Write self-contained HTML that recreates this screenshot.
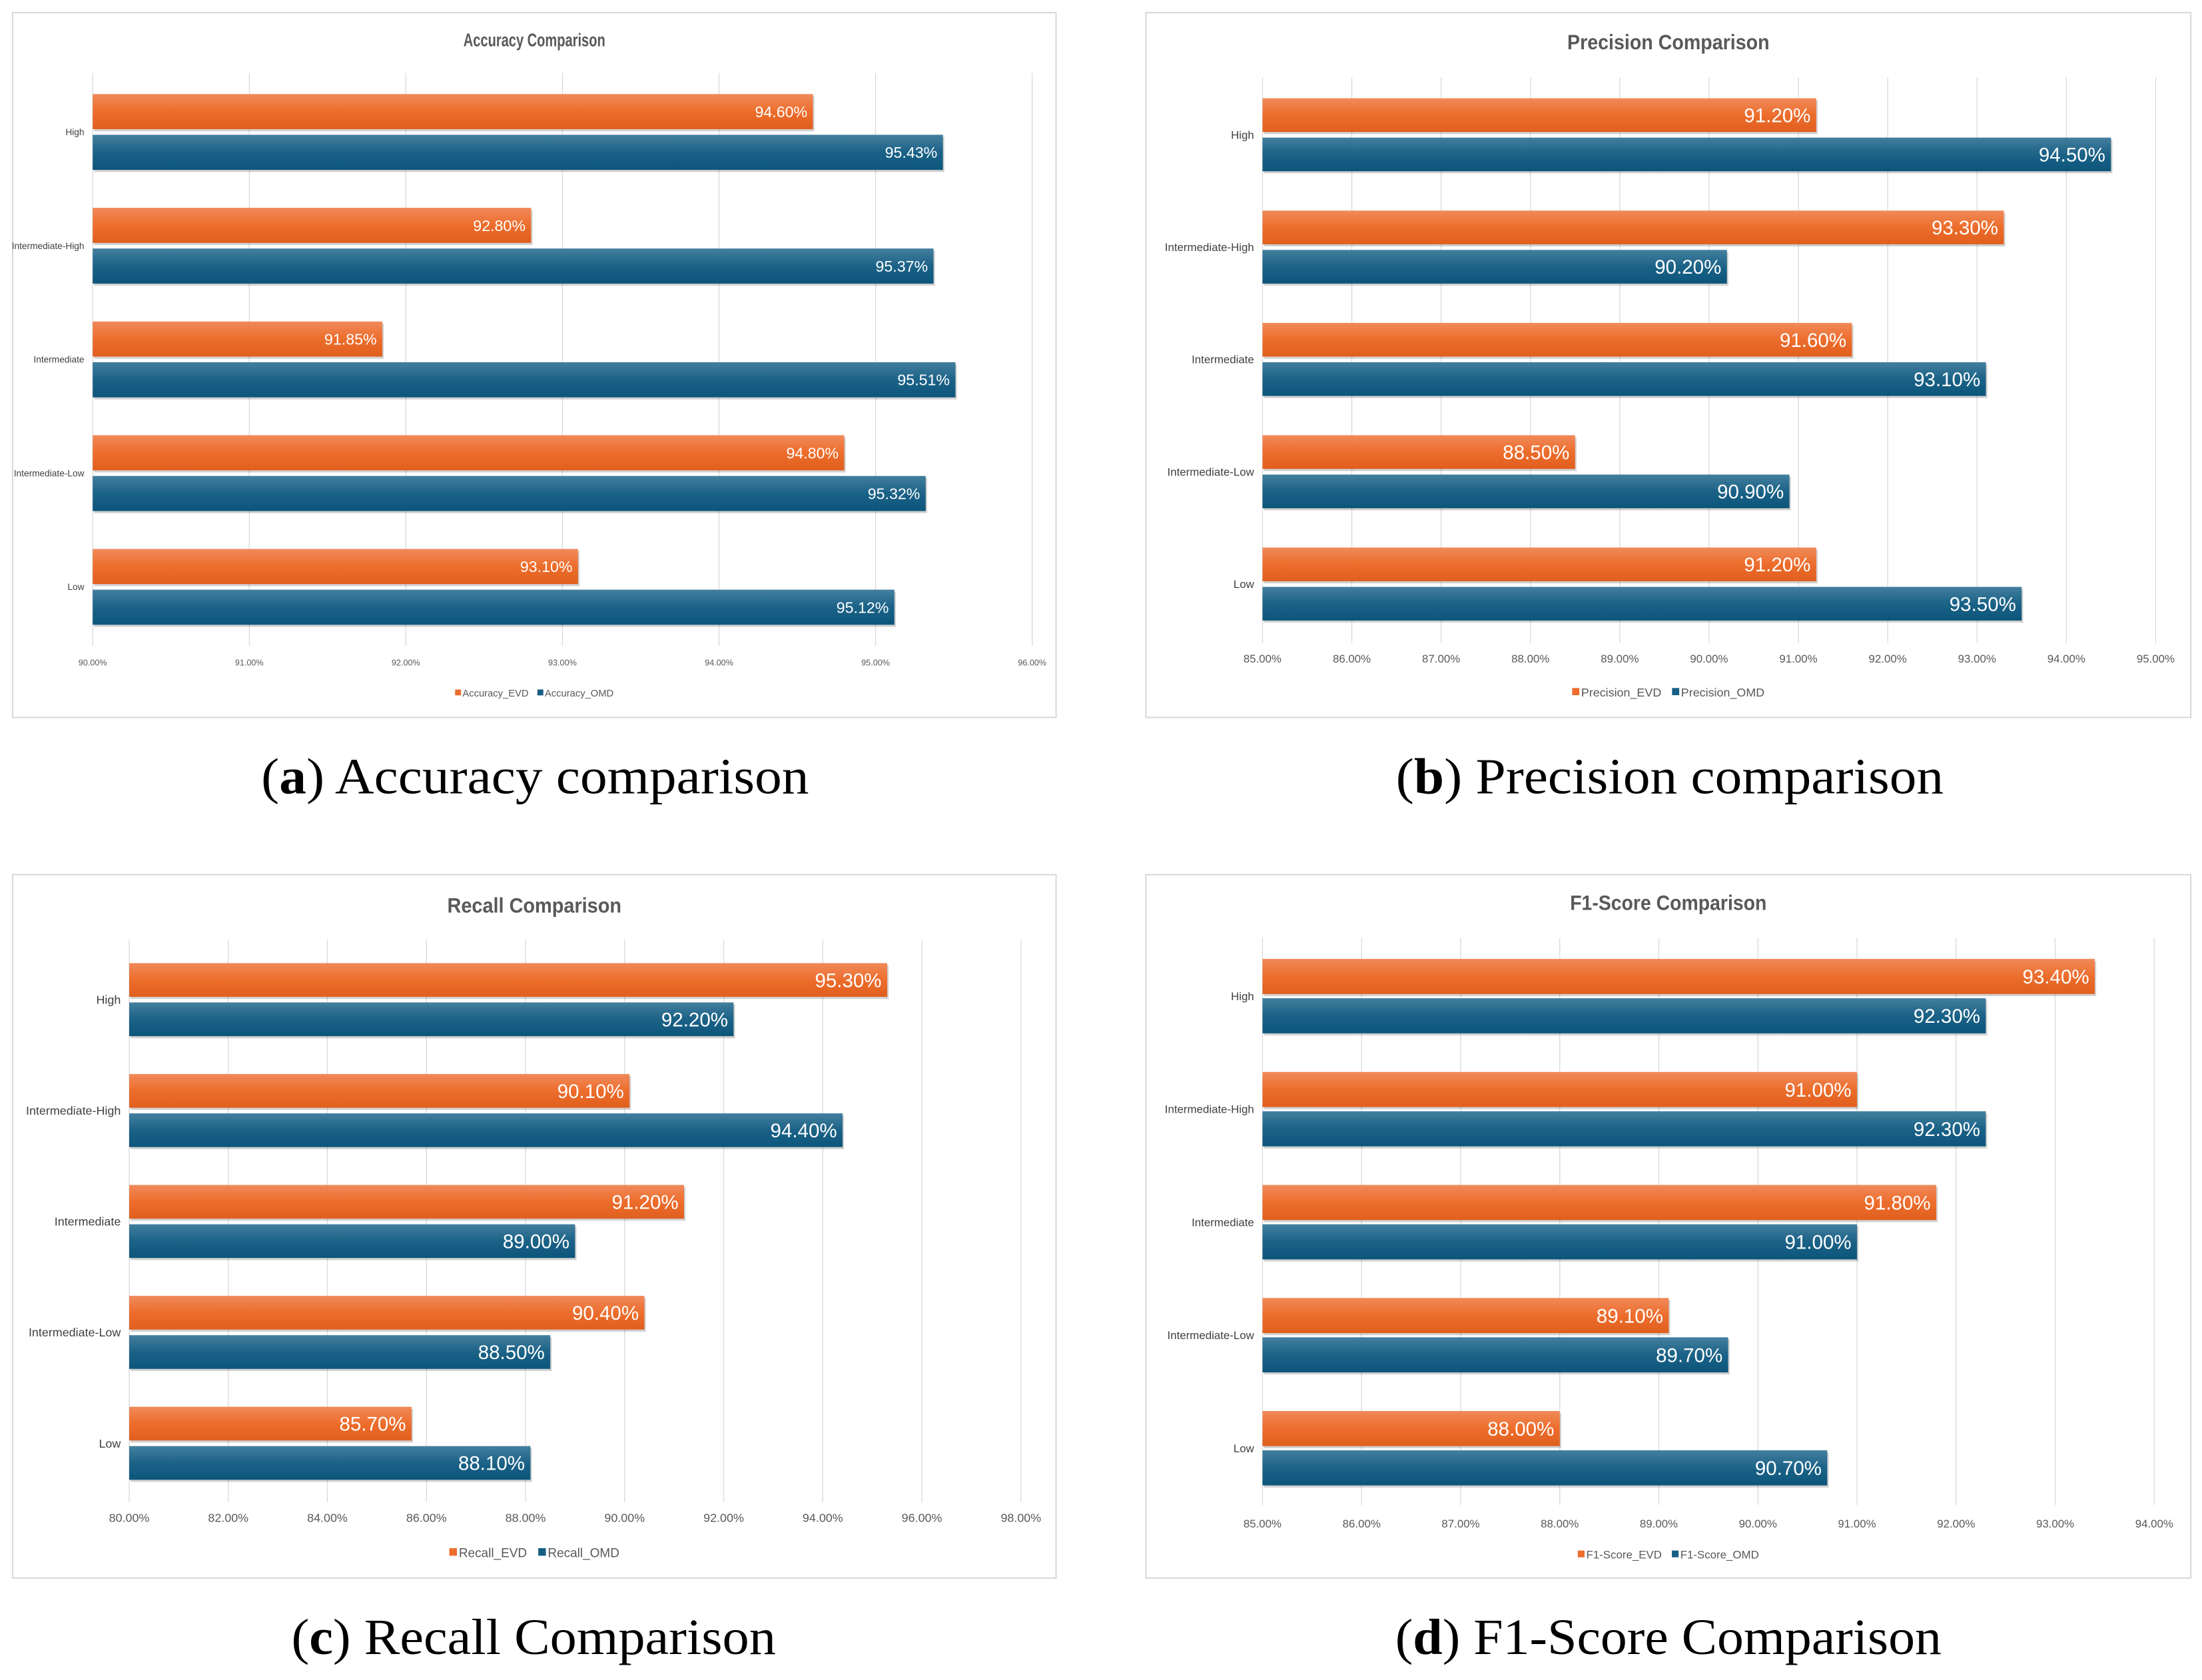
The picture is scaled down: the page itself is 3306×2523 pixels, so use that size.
<!DOCTYPE html>
<html><head><meta charset="utf-8"><style>
html,body{margin:0;padding:0;background:#fff;}
svg{display:block;}
</style></head><body>
<svg id="fig" xmlns="http://www.w3.org/2000/svg" width="3306" height="2523" viewBox="0 0 1568 1196.6" preserveAspectRatio="none">
<defs>
<linearGradient id="gO" x1="0" y1="0" x2="0" y2="1"><stop offset="0" stop-color="#f08a5a"/><stop offset="0.5" stop-color="#ed6d2c"/><stop offset="1" stop-color="#e05f1e"/></linearGradient>
<linearGradient id="gB" x1="0" y1="0" x2="0" y2="1"><stop offset="0" stop-color="#447f9e"/><stop offset="0.5" stop-color="#1b6287"/><stop offset="1" stop-color="#0c557b"/></linearGradient>
</defs>
</svg>
<script>
const categories = ["High","Intermediate-High","Intermediate","Intermediate-Low","Low"];
const accEVD = [94.60, 92.80, 91.85, 94.80, 93.10];
const accOMD = [95.43, 95.37, 95.51, 95.32, 95.12];
const precEVD = [91.20, 93.30, 91.60, 88.50, 91.20];
const precOMD = [94.50, 90.20, 93.10, 90.90, 93.50];
const recEVD = [95.30, 90.10, 91.20, 90.40, 85.70];
const recOMD = [92.20, 94.40, 89.00, 88.50, 88.10];
const f1EVD = [93.40, 91.00, 91.80, 89.10, 88.00];
const f1OMD = [92.30, 92.30, 91.00, 89.70, 90.70];
const accTicks = [90,91,92,93,94,95,96];
const precTicks = [85,86,87,88,89,90,91,92,93,94,95];
const recTicks = [80,82,84,86,88,90,92,94,96,98];
const f1Ticks = [85,86,87,88,89,90,91,92,93,94];

const NS="http://www.w3.org/2000/svg";
const svg=document.getElementById('fig');
const SANS='"Liberation Sans Narrow","Liberation Sans",sans-serif';
function mk(tag,attrs,parent,text){const e=document.createElementNS(NS,tag);for(const k in attrs)e.setAttribute(k,attrs[k]);if(text!==undefined)e.textContent=text;(parent||svg).appendChild(e);return e;}

function drawChart(cfg){
  const g=mk('g',{});
  
  
  const box=mk('rect',{x:cfg.bx,y:cfg.by,width:cfg.bw,height:cfg.bh,fill:'#fff',stroke:'#d9d9d9','stroke-width':1},g);
  
  
  const t=mk('text',{x:cfg.bx+cfg.bw/2,y:cfg.ty,'text-anchor':'middle','font-family':SANS,'font-weight':'bold','font-size':cfg.tfs,fill:'#595959',textLength:cfg.tlen,lengthAdjust:'spacingAndGlyphs'},g,cfg.title);
  
  
  const ticks=cfg.ticks, tmin=ticks[0], tmax=ticks[ticks.length-1];
  const xs=v=>cfg.x0+(v-tmin)/(tmax-tmin)*(cfg.x1-cfg.x0);
  ticks.forEach(v=>{
    const l=mk('line',{x1:xs(v),x2:xs(v),y1:cfg.gy0,y2:cfg.gy1,stroke:'#d9d9d9','stroke-width':0.6},g);
    
    
    const tl=mk('text',{x:xs(v),y:cfg.tky,'text-anchor':'middle','font-family':SANS,'font-size':cfg.tkfs,fill:'#595959'},g,v.toFixed(2)+'%');
    
    
  });
  categories.forEach((c,i)=>{
    const y=cfg.b0+i*cfg.step;
    const e=cfg.evd[i], o=cfg.omd[i];
    [[e,'url(#gO)',y,'evd'],[o,'url(#gB)',y+cfg.bh2+cfg.gap,'omd']].forEach(([v,fill,yy,s])=>{
      const sh=mk('rect',{x:xs(tmin)+1,y:yy+1.5,width:xs(v)-xs(tmin),height:cfg.bh2,fill:'#000',opacity:0.18},g);
      
      
      const r=mk('rect',{x:xs(tmin),y:yy,width:xs(v)-xs(tmin),height:cfg.bh2,fill:fill},g);
      
      
      const vl=mk('text',{x:xs(v)-4,y:yy+cfg.bh2/2+cfg.vfs*0.36,'text-anchor':'end','font-family':SANS,'font-size':cfg.vfs,fill:'#fff'},g,v.toFixed(2)+'%');
      
      
    });
    const cl=mk('text',{x:cfg.x0-6,y:y+cfg.bh2+cfg.gap/2+cfg.cfs*0.35,'text-anchor':'end','font-family':SANS,'font-size':cfg.cfs,fill:'#404040'},g,c);
    
    
  });
  const cx=cfg.bx+cfg.bw/2;
  const lg=mk('g',{},g);
  
  
  const lf=cfg.lfs;
  const s1=mk('rect',{y:cfg.ly-lf*0.7,width:lf*0.6,height:lf*0.6,fill:'#ed6d2c'},lg);
  const le1=mk('text',{y:cfg.ly,'font-family':SANS,'font-size':lf,fill:'#595959'},lg,cfg.leg[0]);
  
  
  const s2=mk('rect',{y:cfg.ly-lf*0.7,width:lf*0.6,height:lf*0.6,fill:'#165e84'},lg);
  const le2=mk('text',{y:cfg.ly,'font-family':SANS,'font-size':lf,fill:'#595959'},lg,cfg.leg[1]);
  
  
  const w1=le1.getComputedTextLength(), w2=le2.getComputedTextLength();
  const total=w1+w2+lf*2.4;
  let lx=cx-total/2;
  s1.setAttribute('x',lx); le1.setAttribute('x',lx+lf*0.75);
  lx+=w1+lf*1.65;
  s2.setAttribute('x',lx); le2.setAttribute('x',lx+lf*0.75);
  const cap=mk('text',{x:cfg.ccx,y:cfg.cy,'text-anchor':'middle','font-family':'"Liberation Serif",serif','font-size':36,fill:'#000',textLength:cfg.clen,lengthAdjust:'spacingAndGlyphs'},g);
  
  
  mk('tspan',{},cap,'(');
  mk('tspan',{'font-weight':'bold'},cap,cfg.letter);
  mk('tspan',{},cap,') '+cfg.caption);
}

drawChart({key:'accuracy',title:'Accuracy Comparison',letter:'a',caption:'Accuracy comparison',evd:accEVD,omd:accOMD,ticks:accTicks,tlen:101,ccx:381,clen:390,
  bx:9,by:9,bw:743,bh:502,ty:33,tfs:13,x0:66,x1:735,gy0:52,gy1:460,tky:474,tkfs:6,b0:67,step:81,bh2:25,gap:4,vfs:11,cfs:6.5,leg:['Accuracy_EVD','Accuracy_OMD'],ly:496,lfs:7,cy:565});
drawChart({key:'precision',title:'Precision Comparison',letter:'b',caption:'Precision comparison',evd:precEVD,omd:precOMD,ticks:precTicks,tlen:144,ccx:1189,clen:390,
  bx:816,by:9,bw:744,bh:502,ty:35,tfs:15,x0:899,x1:1535,gy0:55,gy1:458,tky:472,tkfs:8,b0:70,step:80,bh2:24,gap:4,vfs:14,cfs:8,leg:['Precision_EVD','Precision_OMD'],ly:496,lfs:8.5,cy:565});
drawChart({key:'recall',title:'Recall Comparison',letter:'c',caption:'Recall Comparison',evd:recEVD,omd:recOMD,ticks:recTicks,tlen:124,ccx:380,clen:345,
  bx:9,by:623,bw:743,bh:501,ty:650,tfs:15,x0:92,x1:727,gy0:669,gy1:1070,tky:1084,tkfs:8.5,b0:686,step:79,bh2:24,gap:4,vfs:14,cfs:8.5,leg:['Recall_EVD','Recall_OMD'],ly:1109,lfs:9,cy:1178});
drawChart({key:'f1',title:'F1-Score Comparison',letter:'d',caption:'F1-Score Comparison',evd:f1EVD,omd:f1OMD,ticks:f1Ticks,tlen:140,ccx:1188,clen:389,
  bx:816,by:623,bw:744,bh:501,ty:648,tfs:15,x0:899,x1:1534,gy0:668,gy1:1072,tky:1088,tkfs:8,b0:683,step:80.5,bh2:25,gap:3,vfs:14,cfs:8,leg:['F1-Score_EVD','F1-Score_OMD'],ly:1110,lfs:8,cy:1178});
</script>
</body></html>
